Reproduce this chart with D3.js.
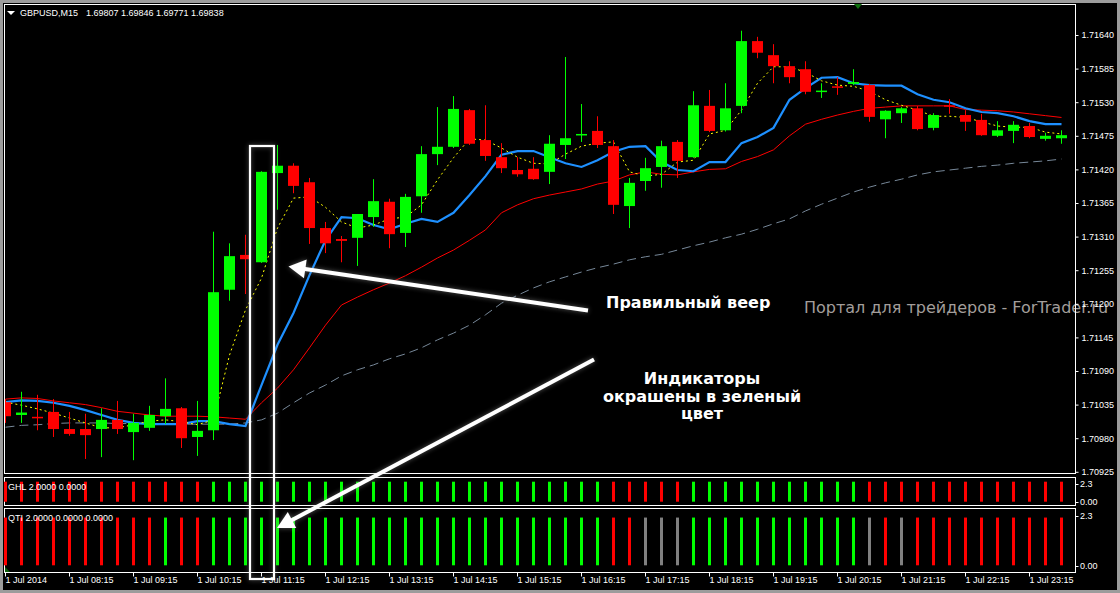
<!DOCTYPE html>
<html><head><meta charset="utf-8">
<script src="https://cdn.jsdelivr.net/npm/d3@7/dist/d3.min.js"></script>
<style>
html,body{margin:0;padding:0;background:#9c9c9c;}
svg{display:block;}
</style></head><body>
<svg id="c" width="1120" height="593"></svg>
<script>
// ---------- DATA (GBPUSD M15, 1 Jul 2014, 07:15 .. 23:45) ----------
const symbolTitle = "GBPUSD,M15";
const titlePrices = "1.69807 1.69846 1.69771 1.69838";

const opens = [1.71039,1.71018,1.71015,1.71023,1.70995,1.70995,1.70995,1.71010,1.70990,1.70997,
1.71016,1.71029,1.70982,1.70993,1.71223,1.71280,1.71268,1.71414,1.71426,1.71399,
1.71324,1.71306,1.71308,1.71342,1.71367,1.71316,1.71376,1.71445,1.71457,1.71517,
1.71468,1.71440,1.71419,1.71421,1.71416,1.71460,1.71476,1.71483,1.71458,1.71360,
1.71401,1.71424,1.71465,1.71440,1.71524,1.71484,1.71524,1.71630,1.71607,1.71589,
1.71584,1.71548,1.71556,1.71560,1.71558,1.71502,1.71512,1.71520,1.71488,1.71525,
1.71509,1.71501,1.71475,1.71483,1.71491,1.71470,1.71471];
const highs = [1.71044,1.71056,1.71051,1.71044,1.71023,1.71020,1.71029,1.71041,1.71020,1.71033,
1.71078,1.71031,1.71041,1.71318,1.71299,1.71313,1.71417,1.71460,1.71430,1.71406,
1.71334,1.71311,1.71347,1.71404,1.71372,1.71380,1.71458,1.71522,1.71540,1.71519,
1.71525,1.71463,1.71440,1.71440,1.71476,1.71604,1.71527,1.71507,1.71468,1.71406,
1.71439,1.71467,1.71468,1.71548,1.71550,1.71561,1.71647,1.71637,1.71625,1.71597,
1.71597,1.71561,1.71571,1.71584,1.71560,1.71517,1.71522,1.71524,1.71512,1.71535,
1.71517,1.71511,1.71499,1.71499,1.71496,1.71480,1.71484];
const lows = [1.71005,1.71005,1.70993,1.70982,1.70984,1.70946,1.70949,1.70987,1.70944,1.70992,
1.71003,1.70964,1.70951,1.70977,1.71205,1.71216,1.71267,1.71354,1.71381,1.71298,
1.71283,1.71268,1.71262,1.71326,1.71291,1.71293,1.71349,1.71427,1.71455,1.71460,
1.71434,1.71414,1.71408,1.71403,1.71396,1.71437,1.71465,1.71455,1.71347,1.71324,
1.71385,1.71390,1.71406,1.71439,1.71481,1.71482,1.71512,1.71602,1.71561,1.71561,
1.71543,1.71537,1.71542,1.71558,1.71498,1.71471,1.71496,1.71484,1.71484,1.71511,
1.71483,1.71475,1.71473,1.71463,1.71471,1.71467,1.71462];
const closes = [1.71016,1.71022,1.71013,1.70995,1.70987,1.70985,1.71010,1.70995,1.71005,1.71018,
1.71028,1.70980,1.70992,1.71219,1.71278,1.71273,1.71416,1.71426,1.71393,1.71324,
1.71299,1.71303,1.71347,1.71368,1.71314,1.71375,1.71445,1.71457,1.71519,1.71462,
1.71442,1.71422,1.71412,1.71404,1.71462,1.71471,1.71478,1.71460,1.71362,1.71398,
1.71422,1.71458,1.71434,1.71525,1.71483,1.71520,1.71630,1.71611,1.71589,1.71571,
1.71547,1.71549,1.71555,1.71563,1.71506,1.71516,1.71520,1.71486,1.71509,1.71524,
1.71498,1.71476,1.71484,1.71493,1.71473,1.71475,1.71476];

// moving averages (fan)
const maFast = [1.71039,1.71034,1.71028,1.71021,1.71013,1.71005,1.70997,1.70997,1.71002,1.71008,
1.71010,1.71007,1.71002,1.71010,1.71116,1.71190,1.71242,1.71324,1.71373,1.71375,
1.71358,1.71334,1.71324,1.71329,1.71339,1.71342,1.71362,1.71403,1.71439,1.71470,
1.71468,1.71455,1.71440,1.71430,1.71429,1.71445,1.71458,1.71463,1.71465,1.71416,
1.71409,1.71412,1.71432,1.71435,1.71478,1.71484,1.71517,1.71561,1.71588,1.71588,
1.71579,1.71565,1.71558,1.71556,1.71548,1.71534,1.71525,1.71517,1.71507,1.71507,
1.71505,1.71498,1.71491,1.71489,1.71489,1.71481,1.71478];
const maBlue = [1.71039,1.71042,1.71041,1.71038,1.71033,1.71026,1.71018,1.71010,1.71005,1.71003,
1.71003,1.71003,1.71008,1.71008,1.71003,1.71000,1.71067,1.71133,1.71185,1.71247,
1.71304,1.71342,1.71340,1.71329,1.71322,1.71331,1.71339,1.71334,1.71349,1.71378,
1.71409,1.71444,1.71450,1.71450,1.71440,1.71430,1.71424,1.71435,1.71449,1.71457,
1.71458,1.71432,1.71419,1.71417,1.71432,1.71432,1.71463,1.71473,1.71488,1.71534,
1.71553,1.71570,1.71571,1.71561,1.71558,1.71557,1.71557,1.71543,1.71534,1.71530,
1.71520,1.71514,1.71512,1.71507,1.71499,1.71494,1.71494];
const maRed = [1.71044,1.71046,1.71045,1.71041,1.71038,1.71035,1.71030,1.71024,1.71021,1.71018,
1.71016,1.71016,1.71016,1.71015,1.71013,1.71011,1.71038,1.71062,1.71092,1.71128,
1.71165,1.71198,1.71211,1.71223,1.71234,1.71246,1.71260,1.71275,1.71288,1.71304,
1.71321,1.71349,1.71362,1.71372,1.71378,1.71383,1.71388,1.71396,1.71401,1.71411,
1.71416,1.71412,1.71411,1.71416,1.71420,1.71421,1.71433,1.71441,1.71452,1.71475,
1.71494,1.71502,1.71509,1.71515,1.71520,1.71522,1.71524,1.71524,1.71524,1.71524,
1.71518,1.71517,1.71516,1.71514,1.71511,1.71508,1.71505];
const maSlow = [1.70998,1.71001,1.71002,1.71004,1.71005,1.71005,1.71005,1.71004,1.71004,1.71003,
1.71003,1.71003,1.71003,1.71003,1.71003,1.71005,1.71010,1.71021,1.71038,1.71054,
1.71067,1.71082,1.71092,1.71100,1.71110,1.71118,1.71128,1.71141,1.71152,1.71165,
1.71182,1.71201,1.71214,1.71226,1.71236,1.71244,1.71252,1.71259,1.71265,1.71272,
1.71277,1.71281,1.71288,1.71295,1.71301,1.71308,1.71314,1.71322,1.71331,1.71339,
1.71352,1.71363,1.71373,1.71383,1.71391,1.71398,1.71404,1.71411,1.71416,1.71419,
1.71422,1.71425,1.71427,1.71430,1.71432,1.71434,1.71437];

// indicator histograms: G = green, R = red, N = neutral (gray); bar height value
const ghlState = "RRRRRRRRRRRRRGGGGGGGGGGGGGGGGGGGGGGGGGRRRRRGGGGGGGGGGGRRRRRRRRRRRRR".split("");
const qtiState = "RRRRRRRRRRGRRGGGGGGGGGGGGGGGGGGGGGGGGGRRNNNGGGGGGGGGGGNRNRRRRRRRRRR".split("");
const histValue = 2;
const ghlTitle = "GHL 2.0000 0.0000";
const qtiTitle = "QTI 2.0000 0.0000 0.0000";
const histScaleLabels = ["2.3", "0.00"];

// axes
const priceTicks = [1.70925,1.70980,1.71035,1.71090,1.71145,1.71200,1.71255,1.71310,1.71365,1.71420,1.71475,1.71530,1.71585,1.71640];
const timeTickIndex = [0,4,8,12,16,20,24,28,32,36,40,44,48,52,56,60,64];
const timeTickLabels = ["1 Jul 2014","1 Jul 08:15","1 Jul 09:15","1 Jul 10:15","1 Jul 11:15","1 Jul 12:15","1 Jul 13:15","1 Jul 14:15","1 Jul 15:15","1 Jul 16:15","1 Jul 17:15","1 Jul 18:15","1 Jul 19:15","1 Jul 20:15","1 Jul 21:15","1 Jul 22:15","1 Jul 23:15"];

// annotation texts
const noteFan = "Правильный веер";
const noteIndicators = ["Индикаторы", "окрашены в зеленый", "цвет"];
const watermark = "Портал для трейдеров - ForTrader.ru";

// ---------- DRAW ----------
const GREEN = "#00ff00", RED = "#ff0000", GRAY = "#808080";
const colorOf = s => s === "G" ? GREEN : (s === "R" ? RED : GRAY);
const FONT = "'Liberation Sans', Arial, sans-serif";

const svg = d3.select("#c");
const n = opens.length;
const idx = d3.range(n);

const x = d3.scaleLinear().domain([0, n - 1]).range([5.5, 5.5 + 16 * (n - 1)]);
const y = d3.scaleLinear().domain([1.70925, 1.71640]).range([471.8, 35]);
const yG = d3.scaleLinear().domain([0, 2.3]).range([501.7, 478.7]);
const yQ = d3.scaleLinear().domain([0, 2.3]).range([565.3, 510.4]);

const defs = svg.append("defs");
defs.append("clipPath").attr("id", "clipMain").append("rect")
  .attr("x", 5).attr("y", 5).attr("width", 1070).attr("height", 468);
const glow = defs.append("filter").attr("id", "glow")
  .attr("x", "-30%").attr("y", "-10%").attr("width", "160%").attr("height", "120%");
glow.append("feGaussianBlur").attr("in", "SourceAlpha").attr("stdDeviation", 2.5).attr("result", "b");
glow.append("feFlood").attr("flood-color", "#a0a0a0").attr("flood-opacity", 0.55).attr("result", "f");
glow.append("feComposite").attr("in", "f").attr("in2", "b").attr("operator", "in").attr("result", "s");
const gm = glow.append("feMerge");
gm.append("feMergeNode").attr("in", "s");
gm.append("feMergeNode").attr("in", "SourceGraphic");

// background
svg.append("rect").attr("x", 3).attr("y", 3).attr("width", 1114).attr("height", 587).attr("fill", "#000");

// watermark
svg.append("text").attr("x", 804).attr("y", 313)
  .attr("font-family", "'DejaVu Sans', sans-serif").attr("font-size", 16)
  .attr("fill", "#a39e9b").text(watermark);

// main panel
const main = svg.append("g").attr("clip-path", "url(#clipMain)");
const line = arr => d3.line().x((d, i) => x(i)).y(d => y(d))(arr);

main.append("path").attr("d", line(maSlow)).attr("fill", "none")
  .attr("stroke", "#778899").attr("stroke-width", 1).attr("stroke-dasharray", "9,5");
main.append("path").attr("d", line(maRed)).attr("fill", "none")
  .attr("stroke", RED).attr("stroke-width", 1);
main.append("path").attr("d", line(maBlue)).attr("fill", "none")
  .attr("stroke", "#1e90ff").attr("stroke-width", 2.2);
main.append("path").attr("d", line(maFast)).attr("fill", "none")
  .attr("stroke", "#ffff00").attr("stroke-width", 1).attr("stroke-dasharray", "2,3");

// candles
const candles = main.append("g").selectAll("g").data(idx).join("g");
candles.append("line")
  .attr("x1", i => Math.floor(x(i)) + 0.5).attr("x2", i => Math.floor(x(i)) + 0.5)
  .attr("y1", i => y(highs[i])).attr("y2", i => y(lows[i]))
  .attr("stroke", i => closes[i] >= opens[i] ? GREEN : RED).attr("stroke-width", 1);
candles.append("rect")
  .attr("x", i => Math.floor(x(i)) - 5).attr("width", 11)
  .attr("y", i => Math.min(y(opens[i]), y(closes[i])))
  .attr("height", i => Math.max(1.5, Math.abs(y(opens[i]) - y(closes[i]))))
  .attr("fill", i => closes[i] >= opens[i] ? GREEN : RED);

// panel borders
const border = (x0, y0, w, h) => svg.append("rect").attr("x", x0).attr("y", y0)
  .attr("width", w).attr("height", h).attr("fill", "none").attr("stroke", "#fff").attr("stroke-width", 1);
border(4.5, 4.5, 1071, 469);
border(4.5, 477.5, 1071, 28);
border(4.5, 508.5, 1071, 64);

// header
svg.append("path").attr("d", "M7,11 L15,11 L11,15 Z").attr("fill", "#fff");
svg.append("text").attr("x", 20).attr("y", 16).attr("font-family", FONT).attr("font-size", 9)
  .attr("fill", "#fff").text(symbolTitle);
svg.append("text").attr("x", 86).attr("y", 16).attr("font-family", FONT).attr("font-size", 9)
  .attr("fill", "#fff").text(titlePrices);
svg.append("path").attr("d", "M854,4 L862,4 L858,9 Z").attr("fill", "#0f6f0f");

// price axis
const yAxis = svg.append("g").attr("transform", "translate(1075.5,0)")
  .call(d3.axisRight(y).tickValues(priceTicks).tickSize(3).tickPadding(3).tickFormat(d3.format(".5f")));
yAxis.select(".domain").remove();
yAxis.selectAll("line").attr("stroke", "#fff");
yAxis.selectAll("text").attr("fill", "#fff").attr("font-family", FONT).attr("font-size", 9);

// indicator histograms
svg.append("g").selectAll("rect").data(idx).join("rect")
  .attr("x", i => Math.floor(x(i)) - 1).attr("width", 3)
  .attr("y", yG(histValue)).attr("height", yG(0) - yG(histValue))
  .attr("fill", i => colorOf(ghlState[i]));
svg.append("g").selectAll("rect").data(idx).join("rect")
  .attr("x", i => Math.floor(x(i)) - 1).attr("width", 3)
  .attr("y", yQ(histValue)).attr("height", yQ(0) - yQ(histValue))
  .attr("fill", i => colorOf(qtiState[i]));
svg.append("path").attr("d", "M5,567 L5,572 L10,572 Z").attr("fill", "#0b5d0b");

svg.append("text").attr("x", 8).attr("y", 490).attr("font-family", FONT).attr("font-size", 9)
  .attr("fill", "#fff").text(ghlTitle);
svg.append("text").attr("x", 8).attr("y", 521).attr("font-family", FONT).attr("font-size", 9)
  .attr("fill", "#fff").text(qtiTitle);

[[yG, 487, 504.5], [yQ, 519, 569]].forEach(([sc, yTop, yBot]) => {
  svg.append("text").attr("x", 1080).attr("y", yTop).attr("font-family", FONT).attr("font-size", 9)
    .attr("fill", "#fff").text(histScaleLabels[0]);
  svg.append("text").attr("x", 1080).attr("y", yBot).attr("font-family", FONT).attr("font-size", 9)
    .attr("fill", "#fff").text(histScaleLabels[1]);
  [yTop - 3, yBot - 3].forEach(t => svg.append("line").attr("x1", 1075.5).attr("x2", 1078.5)
    .attr("y1", Math.round(t) + 0.5).attr("y2", Math.round(t) + 0.5).attr("stroke", "#fff"));
});

// time axis
const xAxis = svg.append("g").attr("transform", "translate(0,572.5)")
  .call(d3.axisBottom(x).tickValues(timeTickIndex).tickSize(4)
    .tickFormat((d, i) => timeTickLabels[i]));
xAxis.select(".domain").remove();
xAxis.selectAll("line").attr("stroke", "#fff").attr("transform", "translate(-0.5,0)");
xAxis.selectAll("text").attr("fill", "#fff").attr("font-family", FONT).attr("font-size", 9)
  .attr("text-anchor", "start").attr("x", -0.5).attr("y", 4).attr("dy", "0.71em");

// ---------- ANNOTATIONS ----------
const ann = svg.append("g").attr("filter", "url(#glow)");
ann.append("rect").attr("x", 250).attr("y", 146).attr("width", 24).attr("height", 433)
  .attr("fill", "none").attr("stroke", "#fff").attr("stroke-width", 2.2);

function arrow(x0, y0, x1, y1, headLen, headHalf, w) {
  const dx = x1 - x0, dy = y1 - y0, L = Math.hypot(dx, dy);
  const ux = dx / L, uy = dy / L, px = -uy, py = ux;
  const bx = x1 - ux * headLen, by = y1 - uy * headLen;
  const g = ann.append("g");
  g.append("line").attr("x1", x0).attr("y1", y0).attr("x2", bx + ux * 2).attr("y2", by + uy * 2)
    .attr("stroke", "#fff").attr("stroke-width", w);
  g.append("path").attr("d", `M${x1},${y1} L${bx + px * headHalf},${by + py * headHalf} L${bx - px * headHalf},${by - py * headHalf} Z`)
    .attr("fill", "#fff");
}
arrow(588, 310.5, 288.5, 266.5, 17, 9.5, 4);
arrow(594, 359.5, 277, 528, 17, 9, 4);

svg.append("text").attr("x", 606).attr("y", 308)
  .attr("font-family", "'DejaVu Sans', sans-serif").attr("font-weight", "bold").attr("font-size", 16)
  .attr("fill", "#fff").text(noteFan);
svg.append("g").selectAll("text").data(noteIndicators).join("text")
  .attr("x", 702).attr("y", (d, i) => 384 + i * 17.7).attr("text-anchor", "middle")
  .attr("font-family", "'DejaVu Sans', sans-serif").attr("font-weight", "bold").attr("font-size", 16)
  .attr("fill", "#fff").text(d => d);
</script>
</body></html>
